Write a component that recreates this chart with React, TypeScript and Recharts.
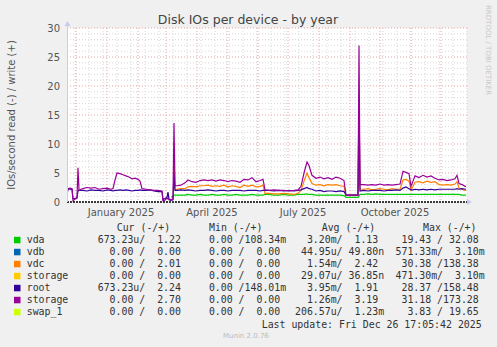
import React from 'react';
import {
  ComposedChart,
  Line,
  XAxis,
  YAxis,
  CartesianGrid,
  ReferenceLine,
} from 'recharts';

// day index from the left edge of the graph (about 22 Nov 2024)
const days = [
  0, 1, 3, 5, 6, 8, 10, 11, 12, 14, 16, 20, 24, 28, 32, 36, 40, 44, 46, 48, 50, 53, 56, 59, 62, 65, 68, 71, 73, 75,
  79, 83, 87, 91, 95, 96, 98, 100, 101, 102, 104, 106, 107, 108, 110, 114, 118, 121, 125, 129, 133, 137, 141, 145,
  149, 153, 157, 161, 165, 169, 173, 177, 181, 185, 189, 193, 196, 198, 202, 207, 212, 217, 222, 227, 231, 234, 237,
  240, 242, 245, 249, 253, 257, 261, 265, 269, 273, 277, 279, 283, 288, 291, 292, 293, 297, 301, 305, 309, 313, 317,
  321, 325, 329, 333, 336, 339, 342, 344, 346, 348, 352, 356, 360, 364, 368, 372, 376, 380, 384, 388, 390, 392, 395,
  398, 399,
];

const vda = [
  null, null, null, null, null, null, null, null, null, null, null, null, null, null, null, null, null, null, null,
  null, null, null, null, null, null, null, null, null, null, null, null, null, null, null, null, null, null, null,
  null, null, 0.9, 0.9, 1.2, 1.2, 1.2, 1.2, 1.2, 1.3, 1.2, 1.2, 1.3, 1.2, 1.2, 1.3, 1.2, 1.2, 1.3, 1.2, 1.2, 1.3, 1.2,
  1.2, 1.2, 1.3, 1.2, 1.2, 1.2, 1.3, 1.3, 1.2, 1.2, 1.3, 1.2, 1.2, 1.3, 1.3, 1.3, 1.4, 1.3, 1.3, 1.2, 1.2, 1.2, 1.2,
  1.2, 1.2, 1.2, 1.1, 0.8, 0.8, 0.8, 0.8, 1.0, 1.3, 1.3, 1.4, 1.3, 1.4, 1.3, 1.3, 1.3, 1.3, 1.3, 1.3, 1.3, 1.3, 1.3,
  1.3, 1.3, 1.3, 1.3, 1.3, 1.3, 1.3, 1.3, 1.3, 1.3, 1.3, 1.3, 1.3, 1.3, 1.3, 1.2, 1.2, 1.2, 1.22,
];

const vdc = [
  null, null, null, null, null, null, null, null, null, null, null, null, null, null, null, null, null, null, null,
  null, null, null, null, null, null, null, null, null, null, null, null, null, null, null, null, null, null, null,
  null, null, null, null, 8, 2.2, 2.2, 2.3, 2.3, 2.6, 2.7, 2.6, 2.8, 2.8, 2.9, 2.7, 2.8, 2.7, 2.9, 2.6, 2.8, 2.7, 2.5,
  2.9, 2.7, 2.9, 2.6, 2.7, 2.9, 1.5, 1.5, 1.4, 1.4, 1.5, 1.4, 1.3, 1.5, 2.0, 3.6, 5.0, 4.2, 3.2, 2.9, 3.0, 2.8, 3.0,
  2.9, 3.0, 2.8, 2.7, 1.2, 1.2, 1.2, 1.2, 18, 2.2, 2.2, 2.3, 2.1, 2.2, 2.3, 2.2, 2.1, 2.3, 2.2, 2.2, 3.8, 3.9, 3.6, 2.1,
  2.7, 3.4, 3.5, 3.3, 3.6, 3.4, 3.5, 3.0, 2.9, 3.0, 2.9, 3.1, 3.5, 2.4, 2.2, 2.0, 2.01,
];

const root = [
  1.3, 2.2, 2.2, 2.2, 0.6, 0.6, 0.7, 1.9, 2.0, 2.0, 2.0, 1.9, 2.1, 2.0, 2.0, 1.9, 2.1, 2.0, 1.9, 2.0, 2.0, 2.1, 2.0,
  2.1, 2.0, 1.9, 2.0, 2.0, 2.1, 2.0, 2.0, 2.1, 1.9, 1.8, 1.8, 0.4, 0.6, 0.8, 1.7, 0.4, 0.3, 0.4, 5, 2.0, 2.0, 2.1,
  2.0, 2.1, 2.0, 1.9, 2.0, 2.0, 2.1, 2.0, 1.9, 2.0, 2.0, 1.9, 2.0, 2.0, 2.0, 1.9, 2.0, 2.0, 2.0, 1.9, 2.0, 2.0, 2.0,
  1.9, 2.0, 1.9, 2.0, 1.9, 2.0, 2.1, 2.3, 2.5, 2.3, 2.2, 1.9, 2.0, 1.8, 1.9, 1.9, 1.8, 1.9, 1.8, 1.2, 1.2, 1.2, 1.2,
  17, 1.9, 2.0, 1.9, 2.0, 2.0, 2.0, 1.9, 2.0, 2.0, 2.1, 2.0, 2.4, 2.6, 2.3, 2.1, 2.1, 2.2, 2.1, 2.2, 2.1, 2.2, 2.1,
  2.2, 2.2, 2.2, 2.2, 2.2, 2.3, 2.2, 2.3, 2.2, 2.24,
];

const storage = [
  1.4, 2.3, 2.4, 2.3, 0.2, 0.5, 0.7, 5.9, 2.0, 2.2, 2.3, 2.5, 2.4, 2.5, 2.2, 2.3, 2.4, 2.2, 2.3, 3.8, 5.0, 4.9, 4.7,
  4.5, 4.3, 4.0, 4.1, 3.9, 3.6, 2.3, 2.2, 2.1, 2.0, 2.0, 1.9, 0.2, 0.3, 0.7, 0.5, 0.5, 0.4, 0.5, 13.6, 2.8, 2.8, 2.9,
  3.3, 3.8, 3.5, 3.4, 3.7, 3.8, 3.7, 3.8, 3.6, 3.8, 3.7, 3.5, 3.7, 3.6, 3.4, 3.9, 3.8, 4.2, 3.5, 3.7, 3.9, 2.1, 2.0,
  2.1, 2.0, 2.0, 1.9, 2.0, 2.1, 2.7, 5.0, 6.9, 6.3, 4.6, 4.1, 4.3, 4.0, 4.2, 3.9, 4.3, 4.1, 3.7, 1.2, 1.2, 1.2, 1.2,
  27, 3.0, 3.0, 2.9, 3.0, 2.9, 3.1, 2.9, 3.0, 2.9, 3.0, 3.1, 5.3, 5.1, 4.9, 2.7, 3.6, 4.5, 4.2, 4.6, 4.3, 4.5, 4.1,
  3.8, 3.9, 3.7, 3.8, 4.0, 4.6, 3.2, 3.0, 2.7, 2.7,
];

const yTicks = [0, 5, 10, 15, 20, 25, 30];
const minorY = [1, 2, 3, 4, 6, 7, 8, 9, 11, 12, 13, 14, 16, 17, 18, 19, 21, 22, 23, 24, 26, 27, 28, 29];
// month starts (Dec 2024 .. Dec 2025) and two-week minor lines
const monthDays = [9, 40, 71, 99, 130, 160, 191, 221, 252, 283, 313, 344, 374];
const minorX = [8, 22, 36, 50, 64, 78, 92, 106, 120, 134, 148, 162, 176, 190, 204, 218, 232, 246, 260, 274, 288, 302, 316, 330, 344, 358, 372, 386, 400];
const labelDays = [54, 145, 236, 328];
const labelNames = ['January 2025', 'April 2025', 'July 2025', 'October 2025'];

const legendRows = [
  { name: 'vda', color: '#00cc00', cur: '673.23u/  1.22 ', min: '  0.00 /108.34m', avg: '  3.20m/  1.13 ', max: ' 19.43 / 32.08 ' },
  { name: 'vdb', color: '#0066b3', cur: '  0.00 /  0.00 ', min: '  0.00 /  0.00 ', avg: ' 44.95u/ 49.80n', max: '571.33m/  3.10m' },
  { name: 'vdc', color: '#ff8000', cur: '  0.00 /  2.01 ', min: '  0.00 /  0.00 ', avg: '  1.54m/  2.42 ', max: ' 30.38 /138.38 ' },
  { name: 'storage', color: '#ffcc00', cur: '  0.00 /  0.00 ', min: '  0.00 /  0.00 ', avg: ' 29.07u/ 36.85n', max: '471.30m/  3.10m' },
  { name: 'root', color: '#330099', cur: '673.23u/  2.24 ', min: '  0.00 /148.01m', avg: '  3.95m/  1.91 ', max: ' 28.37 /158.48 ' },
  { name: 'storage', color: '#990099', cur: '  0.00 /  2.70 ', min: '  0.00 /  0.00 ', avg: '  1.26m/  3.19 ', max: ' 31.18 /173.28 ' },
  { name: 'swap_1', color: '#ccff00', cur: '  0.00 /  0.00 ', min: '  0.00 /  0.00 ', avg: '206.57u/  1.23m', max: '  3.83 / 19.65 ' },
];

const chartData = days.map((d, i) => ({
  d,
  vda: vda[i],
  vdc: vdc[i],
  root: root[i],
  storage: storage[i],
}));

const sans = 'DejaVu Sans, sans-serif';
const mono = 'DejaVu Sans Mono, monospace';

function Pre({ x, y, children }: { x: number; y: number; children: string }) {
  return (
    <text x={x} y={y} xmlSpace="preserve" style={{ whiteSpace: 'pre' }}>
      {children}
    </text>
  );
}

export default function App() {
  const tick = { fill: '#555', fontSize: 10, fontFamily: sans };
  return (
    <div style={{ position: 'fixed', left: 0, top: 0, width: 497, height: 347, background: '#f0f0f0' }}>
      <ComposedChart
        width={497}
        height={347}
        data={chartData}
        margin={{ top: 28, right: 30, left: 0, bottom: 115 }}
        style={{ position: 'absolute', left: 0, top: 0 }}
      >
        <CartesianGrid fill="#ffffff" stroke="#d8d8d8" strokeDasharray="1 2" horizontalValues={minorY} verticalValues={minorX} />
        <CartesianGrid stroke="#e8a4a4" strokeDasharray="1 2" horizontalValues={yTicks} verticalValues={monthDays} />
        <XAxis
          type="number"
          dataKey="d"
          domain={[0, 400]}
          ticks={labelDays}
          tickFormatter={(v) => labelNames[labelDays.indexOf(v)] ?? ''}
          axisLine={false}
          tickLine={false}
          tickSize={0}
          tickMargin={7}
          height={30}
          tick={tick}
          interval={0}
          allowDataOverflow
        />
        <YAxis
          type="number"
          domain={[0, 30]}
          ticks={yTicks}
          axisLine={false}
          tickLine={false}
          tickSize={0}
          tickMargin={7}
          width={67}
          tick={tick}
          interval={0}
          allowDataOverflow
        />
        <Line dataKey="vda" stroke="#00cc00" strokeWidth={1.2} dot={false} isAnimationActive={false} type="linear" />
        <Line dataKey="vdc" stroke="#ff8000" strokeWidth={1.2} dot={false} isAnimationActive={false} type="linear" />
        <Line dataKey="root" stroke="#330099" strokeWidth={1.2} dot={false} isAnimationActive={false} type="linear" />
        <Line dataKey="storage" stroke="#990099" strokeWidth={1.2} dot={false} isAnimationActive={false} type="linear" />
        <ReferenceLine y={0} stroke="#000" strokeWidth={1.5} strokeDasharray="2 1" />
      </ComposedChart>

      <svg width={497} height={347} style={{ position: 'absolute', left: 0, top: 0, pointerEvents: 'none' }}>
        {/* axis arrows */}
        <line x1={67.5} y1={202} x2={67.5} y2={25} stroke="#c4ccf4" />
        <polygon points="64.5,26 70.5,26 67.5,21" fill="#c4ccf4" />
        <polygon points="467,199 467,205 472,202" fill="#c4ccf4" />

        <text x={248} y={24} textAnchor="middle" fontFamily={sans} fontSize={12.5} fill="#444">
          Disk IOs per device - by year
        </text>
        <text
          transform="translate(15,115) rotate(-90)"
          textAnchor="middle"
          fontFamily={sans}
          fontSize={10}
          fill="#555"
        >
          IOs/second read (-) / write (+)
        </text>
        <text transform="translate(486,5) rotate(90)" fontFamily={sans} fontSize={7} fill="#c8c8c8">
          RRDTOOL / TOBI OETIKER
        </text>

        <g fontFamily={mono} fontSize={9.9} fill="#333">
          <Pre x={116.7} y={231.3}>Cur (-/+)</Pre>
          <Pre x={209} y={231.3}>Min (-/+)</Pre>
          <Pre x={321.7} y={231.3}>Avg (-/+)</Pre>
          <Pre x={423} y={231.3}>Max (-/+)</Pre>
          {legendRows.map((r, i) => {
            const y = 243.3 + i * 12;
            return (
              <g key={i}>
                <rect x={14} y={y - 6.5} width={6.5} height={6.5} fill={r.color} />
                <Pre x={26.7} y={y}>{r.name}</Pre>
                <Pre x={97.7} y={y}>{r.cur}</Pre>
                <Pre x={197} y={y}>{r.min}</Pre>
                <Pre x={295} y={y}>{r.avg}</Pre>
                <Pre x={395.5} y={y}>{r.max}</Pre>
              </g>
            );
          })}
          <Pre x={261.7} y={327.5}>Last update: Fri Dec 26 17:05:42 2025</Pre>
        </g>
        <text x={223} y={338} fontFamily={sans} fontSize={7} fill="#bbb">
          Munin 2.0.76
        </text>
      </svg>
    </div>
  );
}
